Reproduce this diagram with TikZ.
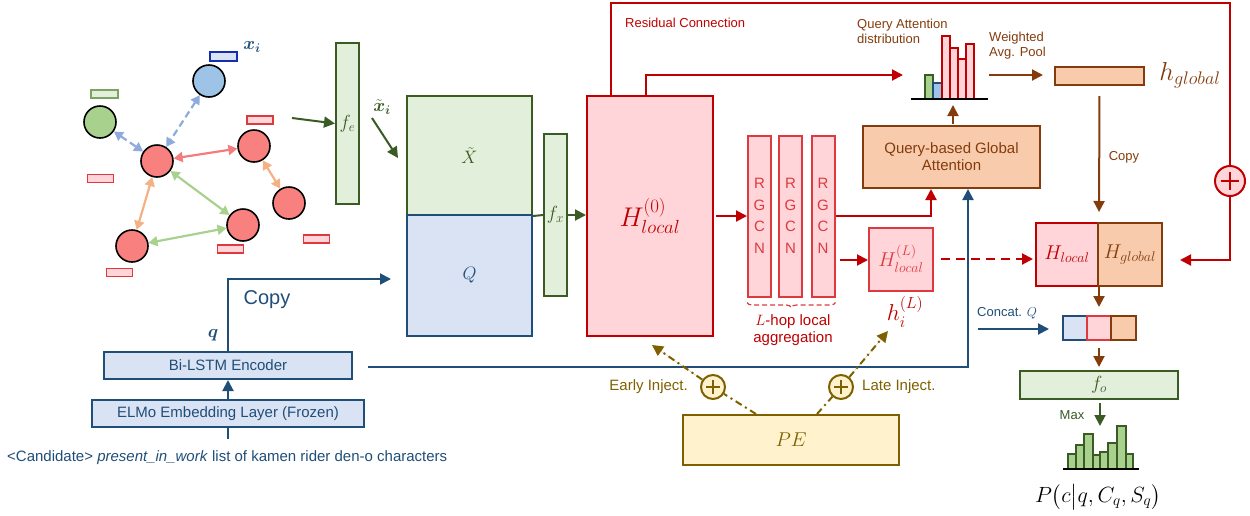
\RequirePackage{fix-cm}
\documentclass[tikz,border=0pt]{standalone}
\usepackage{amsmath}
\usepackage{fontspec}
\setmainfont{Liberation Sans}
\usetikzlibrary{arrows.meta,decorations.pathreplacing}
\definecolor{dgreen}{HTML}{3A5B24}
\definecolor{lgreen}{HTML}{E2EFDA}
\definecolor{dblue}{HTML}{1F4E79}
\definecolor{lblue}{HTML}{DAE3F3}
\definecolor{dred}{HTML}{C00000}
\definecolor{lred}{HTML}{FFD5D9}
\definecolor{mred}{HTML}{DC3A3F}
\definecolor{dbrown}{HTML}{843C0C}
\definecolor{lbrown}{HTML}{F8CBAD}
\definecolor{olive}{HTML}{7F6000}
\definecolor{lyellow}{HTML}{FFF2CC}
\definecolor{nblue}{HTML}{9DC3E6}
\definecolor{ngreen}{HTML}{A9D18E}
\definecolor{nred}{HTML}{F8807E}
\definecolor{eblue}{HTML}{8FAADC}
\definecolor{ered}{HTML}{F47C7C}
\definecolor{eorange}{HTML}{F4B183}
\definecolor{egreen}{HTML}{A9D18E}
\begin{document}
\begin{tikzpicture}[x=1pt,y=-1pt,
  box/.style={draw, line width=2pt, inner sep=0pt},
  gbox/.style={box, draw=dgreen, fill=lgreen, text=dgreen},
  bbox/.style={box, draw=dblue, fill=lblue, text=dblue},
  rbox/.style={box, draw=dred, fill=lred, text=dred},
  rgbox/.style={box, draw=mred, fill=lred, text=mred},
  brbox/.style={box, draw=dbrown, fill=lbrown, text=dbrown},
  big/.style={font=\fontsize{15}{17}\selectfont},
  small/.style={font=\fontsize{13}{15}\selectfont},
  tip/.style={-{Triangle[length=11pt,width=11pt]}},
  arr/.style={line width=2pt, tip},
  gnode/.style={circle, draw=black, line width=1.6pt, minimum size=32pt, inner sep=0pt},
  gedge/.style={line width=2.2pt, {Triangle[length=9pt,width=10pt]}-{Triangle[length=9pt,width=10pt]}},
  srect/.style={draw=mred, fill=lred, line width=1.6pt, minimum width=26pt, minimum height=8pt, inner sep=0pt},
  inj/.style={draw=olive, line width=2pt, dash pattern=on 7pt off 4pt on 2pt off 4pt},
  oplus/.style={circle, line width=2pt, minimum size=#1, inner sep=0pt,
    path picture={\draw[line width=1.6pt] ([xshift=-0.3*#1]path picture bounding box.center) -- ([xshift=0.3*#1]path picture bounding box.center)
      ([yshift=-0.3*#1]path picture bounding box.center) -- ([yshift=0.3*#1]path picture bounding box.center);}},
]
\useasboundingbox (0,0) rectangle (1250,515);

% ---------------- graph ----------------
\node[gnode, fill=nblue] (nb) at (209,81) {};
\node[gnode, fill=ngreen] (ng) at (100,122) {};
\node[gnode, fill=nred] (nc) at (157,161) {};
\node[gnode, fill=nred] (nr1) at (254,146) {};
\node[gnode, fill=nred] (nr2) at (289,203) {};
\node[gnode, fill=nred] (nr3) at (243,225) {};
\node[gnode, fill=nred] (nr4) at (132,246) {};
\node[srect, draw=dblue!60!blue, fill=lblue, minimum width=27pt, minimum height=9pt] (rb) at (223.5,56.5) {};
\node[srect, draw=ngreen!60!dgreen, fill=lgreen, minimum width=27pt] (rg) at (104.5,94) {};
\node[srect] (rr1) at (260,120) {};
\node[srect] (rr2) at (100.5,178.5) {};
\node[srect] (rr3) at (316.5,239) {};
\node[srect] (rr4) at (230.5,249) {};
\node[srect] (rr5) at (119.5,272.5) {};
\node[text=dblue, font=\fontsize{18}{20}\selectfont] (xi) at (252,47) {$\boldsymbol{x_i}$};
\draw[gedge, eblue, dash pattern=on 7pt off 4pt] (ng) -- (nc);
\draw[gedge, eblue, dash pattern=on 7pt off 4pt] (nb) -- (nc);
\draw[gedge, ered] (nc) -- (nr1);
\draw[gedge, eorange] (nr1) -- (nr2);
\draw[gedge, egreen] (nc) -- (nr3);
\draw[gedge, eorange] (nc) -- (nr4);
\draw[gedge, egreen] (nr4) -- (nr3);

% ---------------- encoder side ----------------
\coordinate (ga) at (292,118);
\node[gbox, minimum width=23pt, minimum height=161pt, font=\fontsize{19}{21}\selectfont] (fe) at (347.5,123.5) {$f_e$};
\draw[arr, dgreen] (ga) -- (fe.west);
\node[text=dgreen, font=\fontsize{18}{20}\selectfont] (xt) at (382,107) {$\tilde{\boldsymbol{x}}_{\boldsymbol{i}}$};
\coordinate (xa1) at (372,118);
\coordinate (xa2) at (398,158);
\draw[arr, dgreen] (xa1) -- (xa2);

\node[gbox, minimum width=125pt, minimum height=119pt, font=\fontsize{18}{20}\selectfont] (X) at (469.5,155.5) {$\tilde{X}$};
\node[bbox, minimum width=125pt, minimum height=121pt, font=\fontsize{18}{20}\selectfont] (Q) at (469.5,275.5) {$Q$};
\node[gbox, minimum width=23pt, minimum height=162pt, font=\fontsize{19}{21}\selectfont] (fx) at (555.5,215) {$f_x$};
\draw[line width=2pt, dgreen] (X.south east) -- (fx.west);

\node[rbox, minimum width=126pt, minimum height=240pt, font=\fontsize{27}{29}\selectfont] (H) at (650,216) {$H^{(0)}_{local}$};
\draw[arr, dgreen] (fx.east) -- (fx.east -| H.west);

\node[bbox, big, minimum width=248pt, minimum height=27pt] (lstm) at (228,365.5) {Bi-LSTM Encoder};
\node[bbox, big, minimum width=272pt, minimum height=27pt] (elmo) at (228,413.5) {ELMo Embedding Layer (Frozen)};
\node[big, text=dblue, anchor=west, inner sep=0pt] (cand) at (7,458) {<Candidate> \textit{present\_in\_work} list of kamen rider den-o characters};
\coordinate (in0) at (228,439);
\draw[line width=2pt, dblue] (in0) -- (elmo.south);
\draw[arr, dblue] (elmo.north) -- (lstm.south);
\coordinate (qarr) at (391,279);
\draw[arr, dblue] (lstm.north) |- (qarr);
\node[text=dblue, font=\fontsize{20}{22}\selectfont] (copyq) at (267,300) {Copy};
\node[text=dblue, font=\fontsize{18}{20}\selectfont] (qlab) at (213,335) {$\boldsymbol{q}$};

% ---------------- RGCN ----------------
\foreach \i/\x in {1/759.5, 2/790.5, 3/823} {
  \node[rgbox, minimum width=23pt, minimum height=161pt, align=center, font=\fontsize{15}{21.5}\selectfont] (r\i) at (\x,216) {R\\G\\C\\N};
}
\draw[arr, dred] ([xshift=2pt]H.east) -- (r1.west);
\draw[decorate, decoration={brace, mirror, amplitude=5pt}, mred, line width=1.2pt, dash pattern=on 5pt off 3pt] ([yshift=-5pt]r1.south west) -- ([yshift=-5pt]r3.south east);
\node[text=dred, big, align=center] (lhop) at (793,330) {$L$-hop local\\aggregation};

\node[rgbox, minimum width=64pt, minimum height=63pt, font=\fontsize{20}{22}\selectfont] (HL) at (901,259) {$H^{(L)}_{local}$};
\coordinate (hla) at (840,260);
\draw[arr, dred] (hla) -- (hla -| HL.west);
\node[text=dred, font=\fontsize{23}{25}\selectfont] (hi) at (905,312) {$h_i^{(L)}$};

\node[brbox, big, minimum width=177pt, minimum height=62pt, align=center] (qga) at (951.5,157) {Query-based Global\\Attention};
\draw[arr, dred] (r3.east) -| ([xshift=-20.5pt]qga.south);
\coordinate (lstmR) at (368,367);
\draw[arr, dblue] (lstmR) -| ([xshift=16.5pt]qga.south);

% ---------------- attention distribution ----------------
\draw[fill=ngreen, draw=dgreen, line width=1.5pt] (925,75) rectangle (933,99);
\draw[fill=nblue, draw=dblue, line width=1.5pt] (933,83) rectangle (942,99);
\draw[fill=lred, draw=dred, line width=1.5pt] (942,36) rectangle (950,99);
\draw[fill=lred, draw=dred, line width=1.5pt] (950,48) rectangle (958,99);
\draw[fill=lred, draw=dred, line width=1.5pt] (958,59) rectangle (966,99);
\draw[fill=lred, draw=dred, line width=1.5pt] (966,44) rectangle (974,99);
\draw[line width=2pt, black] (911,99) -- (988,99);
\node[small, text=dbrown, align=left, anchor=north west, inner sep=0pt] (qad) at (857,19) {Query Attention\\distribution};
\coordinate (qgatop) at (953,124);
\coordinate (attbot) at (953,105);
\draw[arr, dbrown] (qgatop) -- (attbot);
\coordinate (attL) at (903,75);
\draw[arr, dred] ([xshift=-4pt]H.north) |- (attL);

\node[small, text=dbrown, align=left, anchor=north west, inner sep=0pt] (wap) at (989,32) {Weighted\\Avg. Pool};
\coordinate (wa) at (989,75);
\node[brbox, minimum width=89pt, minimum height=18pt] (hg) at (1099.5,76) {};
\draw[arr, dbrown, shorten >=11pt] (wa) -- (hg.west |- wa);
\node[text=dbrown, font=\fontsize{26}{28}\selectfont] (hglab) at (1190,75) {$h_{global}$};

% ---------------- residual ----------------
\node[rbox, oplus=30pt] (plus) at (1230,181) {};
\coordinate (resTR) at (1230,3);
\draw[line width=2pt, dred] ([xshift=-39pt]H.north) |- (resTR) -- (plus);
\node[small, text=dred, anchor=west, inner sep=0pt] (rc) at (625,23) {Residual Connection};

% ---------------- final ----------------
\node[rbox, minimum width=62pt, minimum height=63pt, font=\fontsize{20}{22}\selectfont] (Hl) at (1067,254.5) {$H_{local}$};
\node[brbox, minimum width=64pt, minimum height=63pt, font=\fontsize{20}{22}\selectfont] (Hg) at (1130,254.5) {$H_{global}$};
\coordinate (resIn) at (1180,260);
\draw[arr, dred] (plus) |- (resIn);
\draw[arr, dred, dash pattern=on 9pt off 6pt, shorten <=7pt, shorten >=2pt] (HL.east) -- (HL.east -| Hl.west);
\draw[arr, dbrown, shorten <=10pt, shorten >=10pt] (hg.south) -- (Hl.north east);
\node[small, text=dbrown] (copyb) at (1124,157) {Copy};

\node[bbox, minimum width=24pt, minimum height=24pt] (c1) at (1075,328) {};
\node[rgbox, minimum width=24pt, minimum height=24pt] (c2) at (1099,328) {};
\node[brbox, minimum width=25pt, minimum height=24pt] (c3) at (1123.5,328) {};
\draw[arr, dbrown, shorten >=8pt] (Hl.south east) -- (c2.north);
\coordinate (cq) at (978,329);
\draw[arr, dblue, shorten >=13pt] (cq) -- (c1.west |- cq);
\node[small, text=dblue, anchor=west, inner sep=0pt] (cql) at (977,313) {Concat. $Q$};

\node[gbox, minimum width=158pt, minimum height=28pt, font=\fontsize{19}{21}\selectfont] (fo) at (1099,385) {$f_o$};
\draw[arr, dbrown, shorten <=7pt, shorten >=3pt] (c2.south) -- (fo.north -| c2.south);
\coordinate (histtop) at (1100,426);
\draw[arr, dgreen, shorten <=3pt] (fo.south -| histtop) -- (histtop);
\node[small, text=dgreen] (maxl) at (1072,415) {Max};

\foreach \a/\b/\t in {1068/1076/454, 1076/1084/445, 1084/1093/434, 1093/1100/455, 1100/1108/452, 1108/1117/443, 1117/1126/426, 1126/1133/454} {
  \draw[fill=ngreen, draw=dgreen, line width=1.5pt] (\a,\t) rectangle (\b,469);
}
\draw[line width=2pt, black] (1063,469) -- (1139,469);
\node[font=\fontsize{22}{24}\selectfont] (pl) at (1098,497) {$P\big(c\big|q,C_q,S_q\big)$};

% ---------------- PE ----------------
\node[box, draw=olive, fill=lyellow, text=olive, minimum width=216pt, minimum height=50pt, font=\fontsize{20}{22}\selectfont] (PE) at (791,440) {$PE$};
\node[oplus=24pt, draw=olive, fill=lyellow, text=olive] (pe1) at (713,387) {};
\node[oplus=24pt, draw=olive, fill=lyellow, text=olive] (pe2) at (841,387) {};
\coordinate (early) at (652,345);
\coordinate (late) at (888,331);
\draw[inj] ([xshift=-35pt]PE.north) -- (pe1);
\draw[inj, tip, fill=olive] (pe1) -- (early);
\draw[inj] ([xshift=26pt]PE.north) -- (pe2);
\draw[inj, tip, fill=olive] (pe2) -- (late);
\node[big, text=olive, anchor=east, inner sep=0pt] (el) at (688,387) {Early Inject.};
\node[big, text=olive, anchor=west, inner sep=0pt] (ll) at (862,387) {Late Inject.};
\end{tikzpicture}
\end{document}
